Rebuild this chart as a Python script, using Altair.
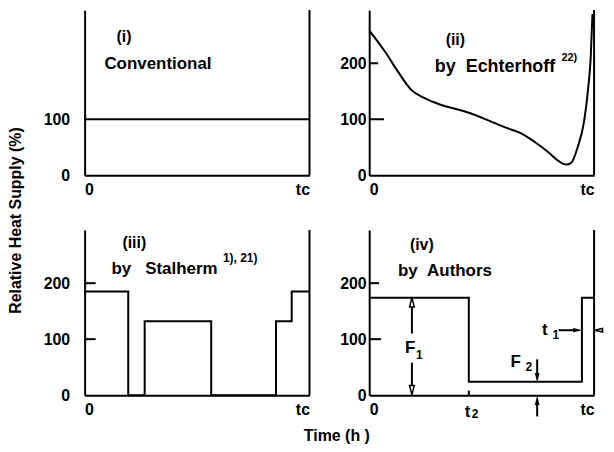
import altair as alt
import pandas as pd

W, H = 226, 166
YMAX = 295

# ---------------- data ----------------
conv_t = [0.0, 1.0]
conv_v = [100, 100]

ech_t = [0.0, 0.07, 0.128, 0.186, 0.244, 0.317, 0.39, 0.462, 0.535, 0.608, 0.68,
         0.738, 0.797, 0.84, 0.876, 0.898, 0.927, 0.956, 0.975, 0.985, 0.993]
ech_v = [259, 221, 185, 153, 138, 126, 118, 109, 97, 85, 74,
         59, 41, 26, 19, 22, 50, 97, 160, 210, 288]

sta_t = [0.0, 0.194, 0.267, 0.563, 0.851, 0.921, 1.0]
sta_v = [185, 0, 132, 0, 132, 185, 185]

aut_t = [0.0, 0.443, 0.946, 1.0]
aut_v = [174, 24, 174, 174]

y_labels_i = [0, 100]
y_labels = [0, 100, 200]
x_labels = [0, 1]

NUM_FONT = "Liberation Sans Narrow, Liberation Sans, sans-serif"
TXT_FONT = "Liberation Sans, Arial, sans-serif"
SP = "\u00a0"

XS = alt.Scale(domain=[0, 1], nice=False, zero=False)
YS = alt.Scale(domain=[0, YMAX], nice=False, zero=False)

SHAPES = {
    "up": "M-0.5,1L0.5,1L0,-1Z",
    "down": "M-0.5,-1L0.5,-1L0,1Z",
    "right": "M-1,-0.45L-1,0.45L1,0Z",
    "left": "M1,-0.45L1,0.45L-1,0Z",
}


def panel(t, v, interp, yvals, ypad, ticks, text_rows, xaxis_kw=None, yaxis_kw=None,
          rule_rows=(), heads=()):
    xkw = dict(values=x_labels, labelExpr="datum.value == 0 ? '0' : 'tc'", labelPadding=6,
               labelFont=TXT_FONT, title=None)
    ykw = dict(values=yvals, labelPadding=ypad, title=None)
    if xaxis_kw:
        xkw.update(xaxis_kw)
    if yaxis_kw:
        ykw.update(yaxis_kw)
    xa = alt.Axis(**xkw)
    ya = alt.Axis(**ykw)

    def X(f="t"):
        return alt.X(f"{f}:Q", scale=XS, axis=xa)

    def Y(f="v"):
        return alt.Y(f"{f}:Q", scale=YS, axis=ya)

    def rules(rows, width=2):
        df = pd.DataFrame(rows, columns=["t", "t2", "v", "v2"])
        return alt.Chart(df).mark_rule(color="black", strokeWidth=width).encode(
            x=X(), x2="t2:Q", y=Y(), y2="v2:Q")

    df = pd.DataFrame({"t": t, "v": v})
    line = alt.Chart(df).mark_line(color="black", strokeWidth=2, interpolate=interp).encode(
        x=X(), y=Y())
    all_rules = [(1, 1, 0, YMAX)] + [(0, ln, val, val) for val, ln in ticks] + list(rule_rows)
    layers = [line, rules(all_rules)]

    tdf = pd.DataFrame(text_rows, columns=["s", "t", "v", "fs"])
    layers.append(alt.Chart(tdf).mark_text(align="left", baseline="middle", font=TXT_FONT,
                                           fontWeight="bold", color="black").encode(
        x=X(), y=Y(), text="s:N", size=alt.Size("fs:Q", scale=None, legend=None)))

    shape_scale = alt.Scale(domain=list(SHAPES.keys()), range=list(SHAPES.values()))
    for hdf, filled, sz in heads:
        if filled:
            mk = alt.Chart(hdf).mark_point(filled=True, color="black", size=sz, opacity=1)
        else:
            mk = alt.Chart(hdf).mark_point(filled=False, fill="white", color="black",
                                           strokeWidth=1.5, size=sz, opacity=1)
        layers.append(mk.encode(x=X(), y=Y(),
                                shape=alt.Shape("d:N", scale=shape_scale, legend=None)))
    return alt.layer(*layers).properties(width=W, height=H)


p1 = panel(conv_t, conv_v, "linear", y_labels_i, 15, [],
           [("(i)", 0.142, 247, 16), ("Conventional", 0.088, 199, 17)],
           yaxis_kw=dict(title="Relative Heat Supply (%)", titleX=-69, titleY=211,
                         titleAngle=270, titleAlign="center", titleBaseline="middle"))

p2 = panel(ech_t, ech_v, "monotone", y_labels, 3, [(200, 0.04), (100, 0.066)],
           [("(ii)", 0.34, 242, 16), ("by" + SP + SP + "Echterhoff", 0.292, 194, 18),
            ("22)", 0.855, 210, 11)])

p3 = panel(sta_t, sta_v, "step-after", y_labels, 15, [(200, 0.049), (100, 0.049)],
           [("(iii)", 0.168, 272, 16), ("by" + SP + SP + SP + "Stalherm", 0.119, 226, 17),
            ("1), 21)", 0.615, 245, 12)],
           xaxis_kw=dict(title="Time (h )", titleX=253, titleY=41, titleAlign="center",
                         titleBaseline="middle", titleFontSize=16))

# panel iv annotations
arrow_lines = [
    (0.19, 0.19, 110, 158),     # F1 upper shaft
    (0.19, 0.19, 17, 58),       # F1 lower shaft
    (0.747, 0.747, 36, 64),     # F2 shaft
    (0.747, 0.747, -38, -15),   # F2 shaft below axis
    (0.842, 0.92, 116, 116),    # t1 shaft
    (1.03, 1.04, 116, 116),     # t1 outer shaft
    (0.443, 0.443, 0, 8),       # t2 tick
]
heads_open = pd.DataFrame({"t": [0.19, 0.19], "v": [166, 9], "d": ["up", "down"]})
heads_open2 = pd.DataFrame({"t": [1.02], "v": [116], "d": ["left"]})
heads_fill = pd.DataFrame({"t": [0.747, 0.747, 0.928], "v": [31, -9, 116],
                           "d": ["down", "up", "right"]})

p4 = panel(aut_t, aut_v, "step-after", y_labels, 3, [(200, 0.044), (100, 0.053)],
           [("(iv)", 0.181, 268, 16), ("by" + SP + SP + "Authors", 0.128, 222, 17),
            ("F", 0.159, 84, 17), ("1", 0.208, 71, 12),
            ("F", 0.628, 59, 17), ("2", 0.695, 50, 12),
            ("t", 0.769, 116, 17), ("1", 0.815, 107, 12),
            ("t", 0.425, -30, 17), ("2", 0.456, -34, 12)],
           rule_rows=arrow_lines,
           heads=[(heads_open, False, 90), (heads_open2, False, 64), (heads_fill, True, 90)])

chart = alt.concat(p1, p2, p3, p4, columns=2, spacing={"row": 55, "column": 60},
                   bounds="flush").configure_view(stroke=None).configure_axis(
    domainColor="black", domainWidth=2, ticks=False, grid=False,
    labelFont=NUM_FONT, labelFontSize=16, labelFontWeight="bold", labelColor="black",
    titleFont=TXT_FONT, titleFontSize=16, titleFontWeight="bold", titleColor="black",
).properties(padding={"left": 0, "top": 0, "right": 0, "bottom": 0}, autosize={"type": "pad"},
             background="white")

chart.save("out.html", embed_options={"renderer": "svg", "actions": False})
